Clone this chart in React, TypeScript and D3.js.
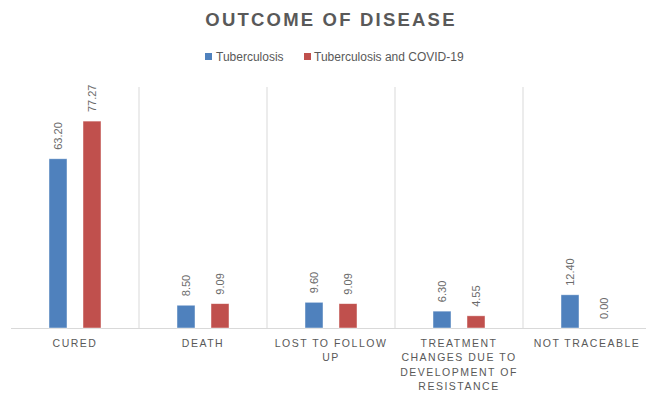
import React from "react";
import * as d3 from "d3";

const categories = ["CURED", "DEATH", "LOST TO FOLLOW UP", "TREATMENT CHANGES DUE TO DEVELOPMENT OF RESISTANCE", "NOT TRACEABLE"];
const categoryLines = [["CURED"], ["DEATH"], ["LOST TO FOLLOW", "UP"], ["TREATMENT", "CHANGES DUE TO", "DEVELOPMENT OF", "RESISTANCE"], ["NOT TRACEABLE"]];
const seriesNames = ["Tuberculosis", "Tuberculosis and COVID-19"];
const tbValues = [63.2, 8.5, 9.6, 6.3, 12.4];
const tbCovidValues = [77.27, 9.09, 9.09, 4.55, 0.0];
const colors = ["#4F81BD", "#C0504D"];

const W = 646, H = 397;
const FONT = "'Liberation Sans', Arial, sans-serif";

export default function App() {
  const left = 11, right = 651, top = 87, bottom = 328;
  const x = d3.scaleBand().domain(categories).range([left, right]).paddingInner(0).paddingOuter(0);
  const y = d3.scaleLinear().domain([0, 90]).range([bottom, top]);
  const barW = 18, gap = 16;
  const series = [tbValues, tbCovidValues];
  const textColor = "#595959";

  return (
    <svg width={W} height={H} style={{ position: "absolute", left: 0, top: 0, background: "#fff" }}>
      <rect x={0} y={0} width={W} height={H} fill="#fff" />
      <text x={331} y={26} textAnchor="middle" fontFamily={FONT} fontWeight="bold" fontSize={18.5} letterSpacing={2.2} fill={textColor}>
        OUTCOME OF DISEASE
      </text>
      {/* legend */}
      <g fontFamily={FONT} fontSize={12} fill={textColor}>
        <rect x={205} y={53} width={7} height={7} fill={colors[0]} />
        <text x={216} y={61}>{seriesNames[0]}</text>
        <rect x={304} y={53} width={7} height={7} fill={colors[1]} />
        <text x={314} y={61}>{seriesNames[1]}</text>
      </g>
      {/* vertical separators */}
      {categories.slice(1).map((c) => (
        <line key={c} x1={x(c)!} x2={x(c)!} y1={top} y2={bottom} stroke="#D9D9D9" strokeWidth={1} />
      ))}
      <line x1={left} x2={right} y1={bottom + 0.5} y2={bottom + 0.5} stroke="#D9D9D9" strokeWidth={1} />
      {/* bars */}
      {categories.map((c, i) => {
        const cx = x(c)! + x.bandwidth() / 2;
        const groupW = barW * 2 + gap;
        return series.map((vals, s) => {
          const bx = cx - groupW / 2 + s * (barW + gap);
          const v = vals[i];
          const by = y(v);
          const lx = bx + barW / 2;
          const ly = by - 9;
          return (
            <g key={c + s}>
              {v > 0 && <rect x={bx} y={by} width={barW} height={bottom - by} fill={colors[s]} stroke="#fff" strokeOpacity={0.6} strokeWidth={0.75} />}
              <text transform={`translate(${lx + 4},${ly}) rotate(-90)`} fontFamily={FONT} fontSize={11} fill="#6b6b6b" textAnchor="start">
                {v.toFixed(2)}
              </text>
            </g>
          );
        });
      })}
      {/* x labels */}
      {categories.map((c, i) => {
        const cx = x(c)! + x.bandwidth() / 2;
        return (
          <text key={c} fontFamily={FONT} fontSize={10.5} fill={textColor} textAnchor="middle" letterSpacing={1.5}>
            {categoryLines[i].map((ln, j) => (
              <tspan key={j} x={cx} y={347 + j * 14.3}>{ln}</tspan>
            ))}
          </text>
        );
      })}
    </svg>
  );
}
